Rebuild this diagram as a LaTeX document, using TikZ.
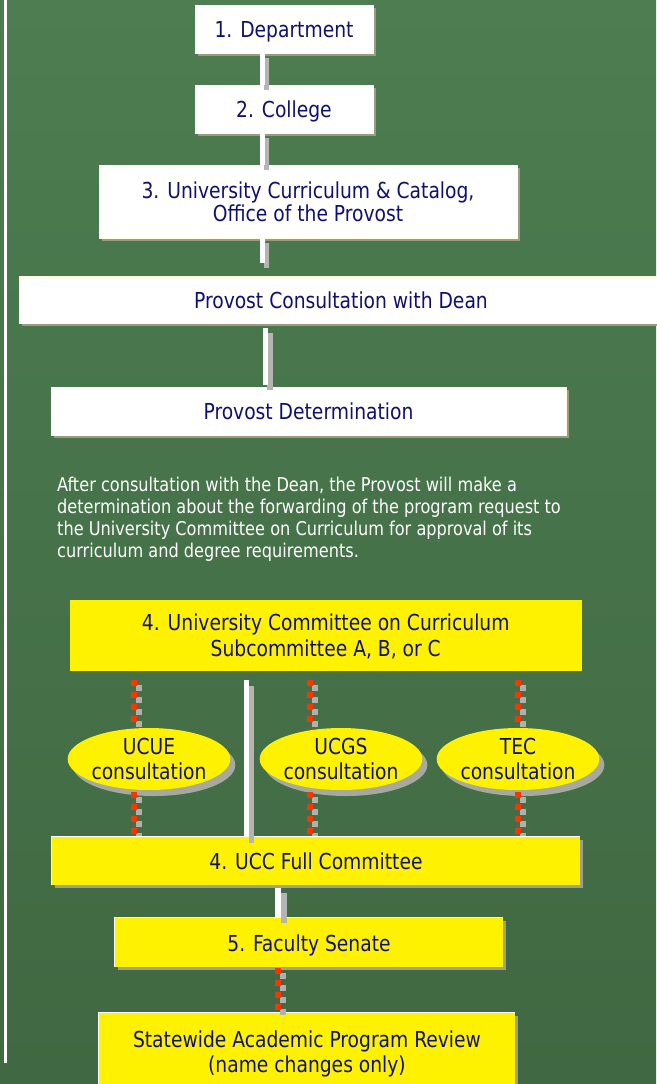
\documentclass[tikz,border=0pt]{standalone}
\usepackage{fontspec}
\setmainfont{DejaVu Sans Condensed}[FakeStretch=0.945]
\usetikzlibrary{shapes.geometric,shadows,calc}
\definecolor{navy}{RGB}{16,16,112}
\definecolor{bgtop}{RGB}{77,125,81}
\definecolor{bgmid}{RGB}{76,122,79}
\definecolor{bgbot}{RGB}{64,104,66}
\definecolor{shcol}{RGB}{156,154,128}
\definecolor{ysh}{RGB}{160,160,144}
\definecolor{esh}{RGB}{166,170,158}
\definecolor{barsh}{RGB}{180,180,176}
\definecolor{dred}{RGB}{255,51,0}
\definecolor{dgray}{RGB}{176,178,170}
\definecolor{cream}{RGB}{255,255,220}
\begin{document}
\begin{tikzpicture}[x=1pt,y=-1pt,
  boxfont/.style={font=\fontsize{22}{24}\selectfont},
  one/.style={text height=17pt, text depth=0pt},
  wbox/.style={rectangle, fill=white, draw=cream, line width=0.8pt, text=navy, boxfont, align=center, inner sep=0pt,
     drop shadow={shadow xshift=3pt, shadow yshift=-3pt, fill=shcol, opacity=1}},
  ybox/.style={rectangle, fill=yellow, text=navy, boxfont, align=center, inner sep=0pt,
     drop shadow={shadow xshift=3pt, shadow yshift=-3pt, fill=ysh, opacity=1},
     append after command={\pgfextra{\draw[white, line width=1.6pt] (\tikzlastnode.south west) -- (\tikzlastnode.north west) -- (\tikzlastnode.north east);}}},
  yplain/.style={rectangle, fill=yellow, text=navy, boxfont, align=center, inner sep=0pt},
  ell/.style={ellipse, fill=yellow, minimum width=160pt, minimum height=62pt, inner sep=0pt, text=navy,
     font=\fontsize{22}{25}\selectfont, align=center, text height=41pt, text depth=0pt,
     drop shadow={shadow xshift=5pt, shadow yshift=-6pt, fill=esh, opacity=1}},
  bar/.style={draw=white, line width=5pt},
  barshadow/.style={draw=barsh, line width=5.5pt},
  dashred/.style={draw=dred, line width=6pt, dash pattern=on 6pt off 6pt},
  dashshadow/.style={draw=dgray, line width=6pt, dash pattern=on 6pt off 6pt},
  para/.style={text=white, font=\fontsize{19}{22}\selectfont, align=left, inner sep=0pt}
]
\useasboundingbox (0,0) rectangle (656,1084);
\shade[top color=bgtop, middle color=bgmid, bottom color=bgbot] (0,0) rectangle (656,1084);
\draw[white, line width=2.3pt] (5.5,0) -- (5.5,1063);

% boxes
\node[wbox, one, minimum width=178pt, minimum height=48pt] (b1) at (284,29) {1. Department};
\node[wbox, one, minimum width=178pt, minimum height=48pt] (b2) at (284,109) {2. College};
\node[wbox, minimum width=418pt, minimum height=73pt, font=\fontsize{22}{23}\selectfont, text height=40pt, text depth=-3pt] (b3) at (308,201.5) {3. University Curriculum \& Catalog,\\Office of the Provost};
\node[wbox, one, minimum width=644pt, minimum height=47pt] (pcd) at (341,299.5) {Provost Consultation with Dean};
\node[wbox, one, minimum width=515pt, minimum height=48pt] (pd) at (308.5,411) {Provost Determination};
\node[para, anchor=north west] (note) at (57,477) {After consultation with the Dean, the Provost will make a\\determination about the forwarding of the program request to\\the University Committee on Curriculum for approval of its\\curriculum and degree requirements.};
\node[yplain, minimum width=512pt, minimum height=71pt, font=\fontsize{22}{26}\selectfont, text height=42pt, text depth=0pt] (u4) at (325.75,635.5) {4. University Committee on Curriculum\\Subcommittee A, B, or C};
\node[ybox, one, minimum width=528pt, minimum height=48pt] (ucc) at (316,861) {4. UCC Full Committee};
\node[ybox, one, minimum width=388pt, minimum height=49pt] (fs) at (309,942.5) {5. Faculty Senate};
\node[ybox, minimum width=416pt, minimum height=77pt, font=\fontsize{22}{25}\selectfont, text height=41pt, text depth=0pt] (sapr) at (307,1051.5) {Statewide Academic Program Review\\(name changes only)};

% x positions of connectors
\coordinate (xa) at (262.5,0);
\coordinate (xb) at (265.7,0);
\coordinate (xc) at (246,0);
\coordinate (xd) at (278,0);
\coordinate (d1) at (134,0);
\coordinate (d2) at (310,0);
\coordinate (d3) at (518,0);

% dashed connectors (behind ellipses)
\foreach \dx in {d1,d2,d3}{
  \draw[dashshadow, transform canvas={xshift=5pt,yshift=-5pt}, shorten <=9pt] (u4.south -| \dx) -- ($(u4.south -| \dx)+(0,57)$);
  \draw[dashred, shorten <=9pt] (u4.south -| \dx) -- ($(u4.south -| \dx)+(0,57)$);
}
\node[ell] (ucue) at (149,759) {UCUE\\consultation};
\node[ell] (ucgs) at (341,759) {UCGS\\consultation};
\node[ell] (tec) at (518,759) {TEC\\consultation};
\foreach \e/\dx in {ucue/d1,ucgs/d2,tec/d3}{
  \draw[dashshadow, transform canvas={xshift=5pt,yshift=-5pt}, shorten <=2pt] (\e.south -| \dx) -- (ucc.north -| \dx);
  \draw[dashred, shorten <=2pt] (\e.south -| \dx) -- (ucc.north -| \dx);
}
% redraw ucc on top of dashes
\node[ybox, one, minimum width=528pt, minimum height=48pt] at (316,861) {4. UCC Full Committee};

% solid bars
\draw[barshadow, transform canvas={xshift=4pt,yshift=-5pt}] (b1.south -| xa) -- (b2.north -| xa);
\draw[bar] (b1.south -| xa) -- (b2.north -| xa);
\draw[barshadow, transform canvas={xshift=4pt,yshift=-5pt}] (b2.south -| xa) -- (b3.north -| xa);
\draw[bar] (b2.south -| xa) -- (b3.north -| xa);
\draw[barshadow, transform canvas={xshift=4pt,yshift=-5pt}, shorten >=13pt] (b3.south -| xa) -- (pcd.north -| xa);
\draw[bar, shorten >=13pt] (b3.south -| xa) -- (pcd.north -| xa);
\draw[barshadow, transform canvas={xshift=4.5pt,yshift=-5pt}, shorten <=5pt, shorten >=2pt] (pcd.south -| xb) -- (pd.north -| xb);
\draw[bar, shorten <=5pt, shorten >=2pt] (pcd.south -| xb) -- (pd.north -| xb);
\draw[barshadow, transform canvas={xshift=5.5pt,yshift=-6pt}, shorten <=9pt] (u4.south -| xc) -- (ucc.north -| xc);
\draw[bar, shorten <=9pt] (u4.south -| xc) -- (ucc.north -| xc);
\draw[barshadow, line width=6pt, transform canvas={xshift=6pt,yshift=-5pt}, shorten <=3pt] (ucc.south -| xd) -- (fs.north -| xd);
\draw[bar, line width=6pt, shorten <=3pt] (ucc.south -| xd) -- (fs.north -| xd);
% faculty senate to SAPR dashed
\draw[dashshadow, transform canvas={xshift=5pt,yshift=-5pt}, shorten <=1pt] (fs.south -| xd) -- (sapr.north -| xd);
\draw[dashred, shorten <=1pt] (fs.south -| xd) -- (sapr.north -| xd);
\end{tikzpicture}
\end{document}
